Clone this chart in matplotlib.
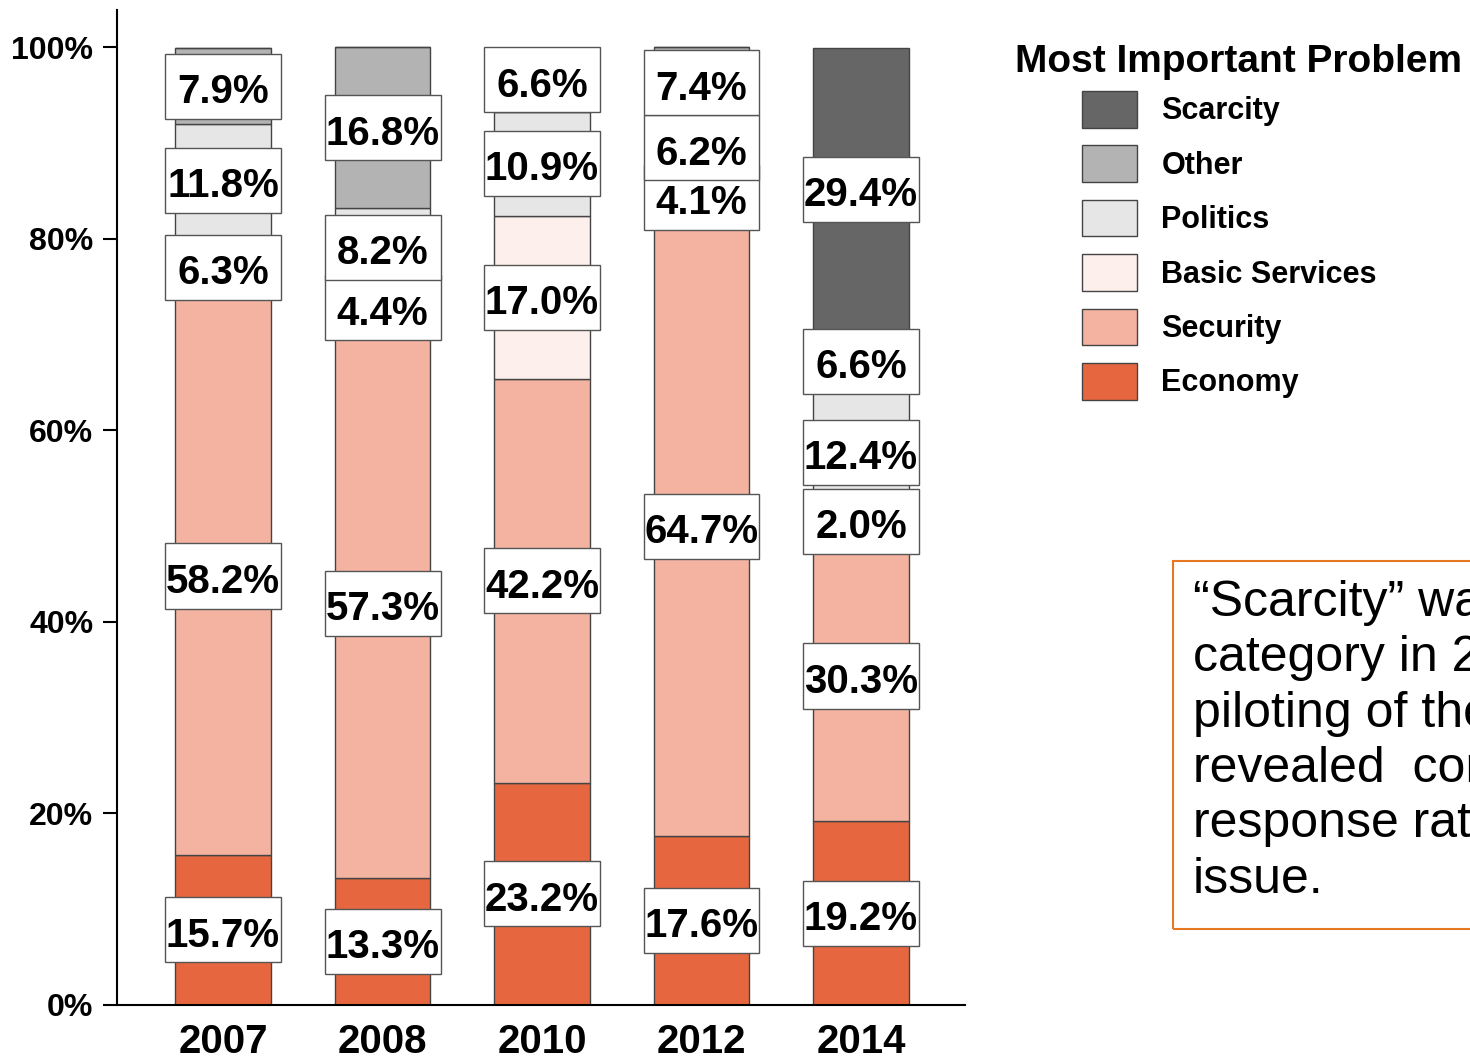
import matplotlib.pyplot as plt
from matplotlib.patches import Rectangle, Patch

plt.rcParams['font.family'] = ['Liberation Sans', 'DejaVu Sans']

# Data (percent of respondents)
years = ['2007', '2008', '2010', '2012', '2014']
categories = ['Economy', 'Security', 'Basic Services', 'Politics', 'Other', 'Scarcity']
economy = [15.7, 13.3, 23.2, 17.6, 19.2]
security = [58.2, 57.3, 42.2, 64.7, 30.3]
basic_services = [6.3, 4.4, 17.0, 4.1, 2.0]
politics = [11.8, 8.2, 10.9, 6.2, 12.4]
other = [7.9, 16.8, 6.6, 7.4, 6.6]
scarcity = [0, 0, 0, 0, 29.4]

series = [economy, security, basic_services, politics, other, scarcity]
colors = ['#e6673f', '#f4b3a0', '#fdefeb', '#e6e6e6', '#b3b3b3', '#666666']

note = ("\u201cScarcity\u201d was a new\n"
        "category in 2014 after\n"
        "piloting of the survey\n"
        "revealed  considerable\n"
        "response rates on the\n"
        "issue.")

W, H = 1470, 1061
fig = plt.figure(figsize=(W / 100, H / 100), dpi=100)
ax = fig.add_axes([117 / W, 56 / H, (965 - 117) / W, (1005 - 10) / H])

x = list(range(len(years)))
bar_w = 0.6
box_w = 0.727
box_h = 6.8

bottoms = [0.0] * len(years)
for vals, col in zip(series, colors):
    ax.bar(x, vals, bottom=bottoms, width=bar_w, color=col,
           edgecolor='#444444', linewidth=1, zorder=2)
    for i, v in enumerate(vals):
        if v <= 0:
            continue
        mid = bottoms[i] + v / 2
        ax.add_patch(Rectangle((x[i] - box_w / 2, mid - box_h / 2), box_w, box_h,
                               facecolor='white', edgecolor='#555555',
                               linewidth=1, zorder=3))
        # baseline placed so the digits sit centred (slightly low) in the box
        ax.text(x[i], mid - 1.75, f'{v:.1f}%', ha='center', va='baseline',
                fontsize=29, fontweight='bold', zorder=4)
    bottoms = [b + v for b, v in zip(bottoms, vals)]

ax.set_xlim(-0.665, 4.652)
ax.set_ylim(0, 103.9)
ax.set_xticks(x)
ax.set_xticklabels(years, fontsize=29, fontweight='bold')
ax.set_yticks([0, 20, 40, 60, 80, 100])
ax.set_yticklabels(['0%', '20%', '40%', '60%', '80%', '100%'],
                   fontsize=23, fontweight='bold')
ax.tick_params(axis='x', length=0, pad=13)
ax.tick_params(axis='y', length=10, width=1.5, pad=7)
for s in ['top', 'right']:
    ax.spines[s].set_visible(False)
for s in ['left', 'bottom']:
    ax.spines[s].set_linewidth(1.5)

# Legend, top category first; title drawn separately so it can sit further left
fig.text(1015 / W, 1 - 62 / H, 'Most Important Problem', ha='left', va='center',
         fontsize=28, fontweight='bold')
handles = [Patch(facecolor=c, edgecolor='#444444', linewidth=1)
           for c in colors[::-1]]
fig.legend(handles, categories[::-1], loc='upper left',
           bbox_to_anchor=(1082 / W, 1 - 91 / H), frameon=False,
           prop={'size': 22, 'weight': 'bold'},
           handlelength=1.8, handleheight=1.47, handletextpad=0.8,
           labelspacing=0.58, borderaxespad=0, borderpad=0)

# Note box on the right, running off the edge
fig.patches.append(Rectangle((1173 / W, 1 - 929 / H), 400 / W, (929 - 561) / H,
                             transform=fig.transFigure, fill=False,
                             edgecolor='#e87722', linewidth=1.5))
fig.text(1193 / W, 1 - 580 / H, note, ha='left', va='top',
         fontsize=36, linespacing=1.26)

fig.savefig('out.png', dpi=100)
